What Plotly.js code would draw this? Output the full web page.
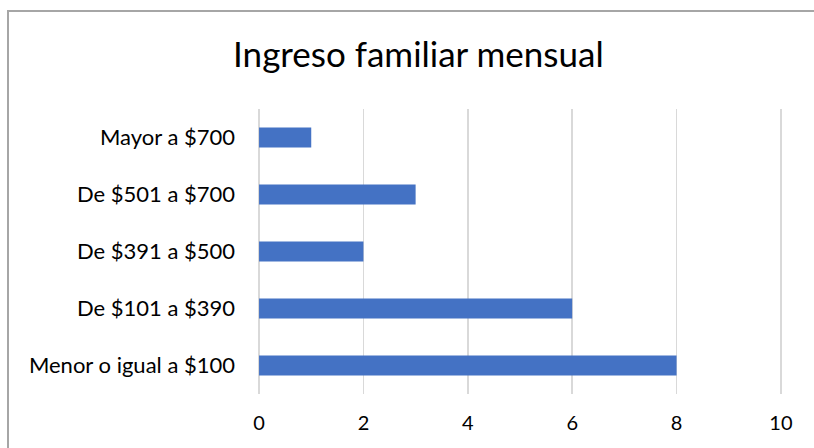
<!DOCTYPE html>
<html><head><meta charset="utf-8">
<script src="https://cdn.plot.ly/plotly-3.0.1.min.js"></script>
<style>body{margin:0;overflow:hidden;background:#fff}#frame{position:absolute;left:7px;top:10px;width:900px;height:600px;border:2px solid #a6a6a6;pointer-events:none}</style>
</head><body>
<div id="chart" style="width:814px;height:448px;"></div>
<div id="frame"></div>
<script>
const categories = ["Menor o igual a $100", "De $101 a $390", "De $391 a $500", "De $501 a $700", "Mayor a $700"];
const values = [8, 6, 2, 3, 1];
const xTicks = [0, 2, 4, 6, 8, 10];
const chartTitle = "Ingreso familiar mensual";

const font = "Lato, 'Open Sans', sans-serif";
Plotly.newPlot("chart", [{
  type: "bar", orientation: "h", x: values, y: categories,
  marker: {color: "#4472c4"}, hoverinfo: "none"
}], {
  width: 814, height: 448,
  margin: {l: 258, r: 32, t: 109, b: 54},
  paper_bgcolor: "#fff", plot_bgcolor: "#fff",
  bargap: 0.65,
  showlegend: false,
  title: {text: chartTitle, font: {family: font, size: 35, color: "#000"}, x: 0.514, xanchor: "center", y: 0.877, yanchor: "middle"},
  xaxis: {range: [-0.02, 10.02], tickvals: xTicks, showgrid: true, gridcolor: "#d9d9d9", gridwidth: 1.5,
          zeroline: true, zerolinecolor: "#d9d9d9", zerolinewidth: 1.5, showline: false, ticks: "", ticklabelstandoff: 15,
          tickfont: {family: font, size: 20, color: "#000"}, fixedrange: true},
  yaxis: {categoryorder: "array", categoryarray: categories, showgrid: false, zeroline: false,
          showline: false, ticks: "", ticklabelstandoff: 22,
          tickfont: {family: font, size: 22, color: "#000"}, fixedrange: true}
}, {displayModeBar: false, staticPlot: true});
</script>
</body></html>
